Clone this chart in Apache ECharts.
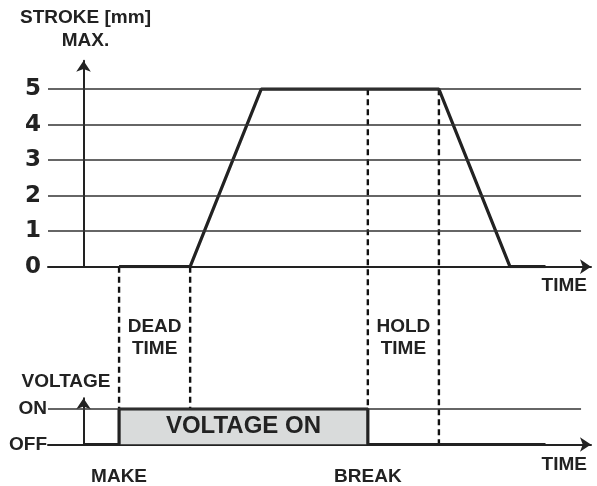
<!DOCTYPE html>
<html>
<head>
<meta charset="utf-8">
<script src="https://cdn.jsdelivr.net/npm/echarts@6/dist/echarts.min.js"></script>
<style>
html, body { margin: 0; padding: 0; background: #fff; }
#chart { width: 597px; height: 486px; }
</style>
</head>
<body>
<div id="chart"></div>
<script>
// stroke curve (time in arbitrary units, MAKE = 5)
var strokeTime = [5, 15, 25, 50, 60, 65];
var strokeMm = [0, 0, 5, 5, 0, 0];
// voltage curve (0 = OFF, 1 = ON)
var voltageTime = [0, 5, 5, 40, 40, 65];
var voltageState = [0, 0, 1, 1, 0, 0];
// tick labels
var strokeTicks = ['0', '1', '2', '3', '4', '5'];
var voltageTicks = ['OFF', 'ON'];
var timeMarks = { 5: 'MAKE', 40: 'BREAK' };
// dashed guides: time, upper end (mm), lower end (ON = -4, OFF = -5 in stroke units)
var dashTime = [5, 15, 40, 50];
var dashTop = [0, 0, 5, 5];
var dashBottom = [-4, -4, -4, -5];
var spanNames = ['DEAD\nTIME', 'HOLD\nTIME'];
var spanTime = [10, 45];
var gridLevels = [1, 2, 3, 4, 5];
var gridEnd = 70;

var ink = '#222';
var font = "'Liberation Sans', Arial, sans-serif";
function txt(extra) {
  return Object.assign({ color: ink, fontFamily: font, fontWeight: 'bold', fontSize: 19,
    textBorderWidth: 0 }, extra || {});
}

var myChart = echarts.init(document.getElementById('chart'));

var strokeData = strokeTime.map(function (t, i) { return [t, strokeMm[i]]; });
var voltageData = voltageTime.map(function (t, i) { return [t, voltageState[i]]; });
var onPoints = voltageData.filter(function (p) { return p[1] === 1; });

function axisLine() {
  return { onZero: true, symbol: ['none', 'arrow'], symbolSize: [11, 11], lineStyle: { color: ink, width: 2 } };
}
var hiddenItem = { opacity: 1, color: 'rgba(0,0,0,0)' };

var series = [];

// horizontal grid lines + stroke curve
series.push({
  type: 'line', xAxisIndex: 0, yAxisIndex: 0, z: 3,
  data: strokeData, symbol: 'none',
  lineStyle: { color: ink, width: 3.2 },
  markLine: {
    silent: true, symbol: ['none', 'none'], label: { show: false },
    lineStyle: { type: 'solid', color: '#333', width: 1.5 },
    data: gridLevels.map(function (v) { return [{ coord: [-5, v] }, { coord: [gridEnd, v] }]; })
  }
});

// dashed guides
dashTime.forEach(function (t, i) {
  series.push({
    type: 'line', xAxisIndex: 0, yAxisIndex: 0, clip: false, symbol: 'none', z: 2,
    data: [[t, dashTop[i]], [t, dashBottom[i]]],
    lineStyle: { color: '#111', width: 2.4, type: [6, 4] }
  });
});

// DEAD TIME / HOLD TIME
series.push({
  type: 'scatter', xAxisIndex: 0, yAxisIndex: 0, clip: false, symbolSize: 1, z: 4,
  itemStyle: hiddenItem,
  data: spanNames.map(function (n, i) { return { name: n, value: [spanTime[i], -2] }; }),
  label: txt({ show: true, position: 'inside', formatter: '{b}', lineHeight: 22 })
});

// grey VOLTAGE ON box
series.push({
  type: 'line', xAxisIndex: 1, yAxisIndex: 1, z: 1, symbol: 'none',
  data: onPoints,
  lineStyle: { width: 0 },
  areaStyle: { color: '#d9dbdb', opacity: 1 }
});

// voltage curve
series.push({
  type: 'line', xAxisIndex: 1, yAxisIndex: 1, z: 3,
  data: voltageData, symbol: 'none',
  lineStyle: { color: ink, width: 3.2 },
  markLine: {
    silent: true, symbol: ['none', 'none'], label: { show: false },
    lineStyle: { type: 'solid', color: '#333', width: 1.5 },
    data: [[{ coord: [-5, 1] }, { coord: [gridEnd, 1] }]]
  }
});

series.push({
  type: 'scatter', xAxisIndex: 1, yAxisIndex: 1, symbolSize: 1, z: 4,
  itemStyle: hiddenItem,
  data: [{ name: 'VOLTAGE ON', value: [(onPoints[0][0] + onPoints[1][0]) / 2, 0.5] }],
  label: txt({ show: true, position: 'inside', formatter: '{b}', fontSize: 24 })
});

myChart.setOption({
  animation: false,
  backgroundColor: '#fff',
  grid: [
    { left: 48, right: 6, top: 60.8, bottom: 219.3, containLabel: false, outerBoundsMode: 'none' },
    { left: 48, right: 6, top: 398.35, bottom: 41.5, containLabel: false, outerBoundsMode: 'none' }
  ],
  xAxis: [
    {
      gridIndex: 0, type: 'value', min: -5, max: 71.4, interval: 5,
      axisLine: axisLine(), axisTick: { show: false }, splitLine: { show: false }, axisLabel: { show: false },
      name: 'TIME', nameLocation: 'end', nameGap: -4, nameMoveOverlap: false,
      nameTextStyle: txt({ align: 'right', verticalAlign: 'top', padding: [10, 0, 0, 0] })
    },
    {
      gridIndex: 1, type: 'value', min: -5, max: 71.4, interval: 5,
      axisLine: axisLine(), axisTick: { show: false }, splitLine: { show: false },
      axisLabel: txt({ margin: 23, formatter: function (v) { return timeMarks[v] || ''; } }),
      name: 'TIME', nameLocation: 'end', nameGap: -4, nameMoveOverlap: false,
      nameTextStyle: txt({ align: 'right', verticalAlign: 'top', padding: [10.5, 0, 0, 0] })
    }
  ],
  yAxis: [
    {
      gridIndex: 0, type: 'value', min: 0, max: 5.8, interval: 1,
      axisLine: axisLine(), axisTick: { show: false }, splitLine: { show: false },
      axisLabel: { margin: 7, color: ink, fontFamily: "'DejaVu Sans', sans-serif", fontWeight: 'bold', fontSize: 23,
        formatter: function (v) { return strokeTicks[v] || ''; } },
      name: 'STROKE [mm]\nMAX.', nameLocation: 'end', nameGap: 9, nameMoveOverlap: false,
      nameTextStyle: txt({ align: 'center', verticalAlign: 'bottom', lineHeight: 23, padding: [0, 0, 0, 4] })
    },
    {
      gridIndex: 1, type: 'value', min: 0, max: 1.3, interval: 1,
      axisLine: axisLine(), axisTick: { show: false }, splitLine: { show: false },
      axisLabel: txt({ margin: 1, formatter: function (v) { return voltageTicks[v] || ''; } }),
      name: 'VOLTAGE', nameLocation: 'end', nameGap: 7, nameMoveOverlap: false,
      nameTextStyle: txt({ align: 'center', verticalAlign: 'bottom', padding: [0, 35, 0, 0] })
    }
  ],
  series: series
});
</script>
</body>
</html>
